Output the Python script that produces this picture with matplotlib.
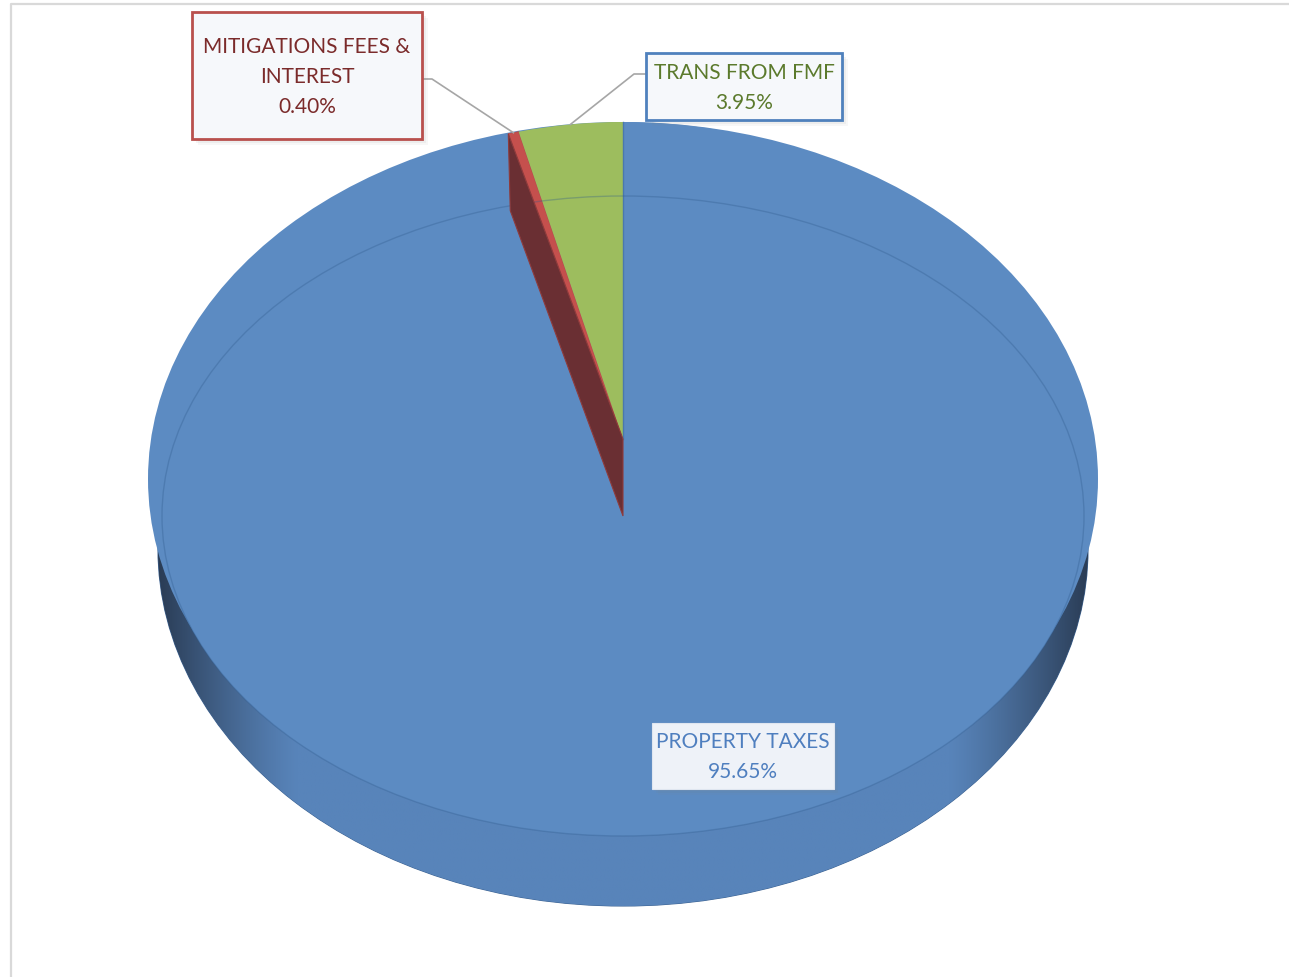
import numpy as np
import matplotlib
matplotlib.use("Agg")
import matplotlib.pyplot as plt
from matplotlib.patches import Ellipse, Polygon, Rectangle

# ---------------- data ----------------
categories = ["PROPERTY TAXES", "MITIGATIONS FEES &\nINTEREST", "TRANS FROM FMF"]
shares = [95.65, 0.40, 3.95]
pct_labels = ["95.65%", "0.40%", "3.95%"]
slice_colors = ["#5c8bc2", "#c5504d", "#9dbd5e"]
text_colors = ["#4f7fbf", "#7b2b2b", "#5b7a2c"]

plt.rcParams['font.family'] = ['Lato', 'DejaVu Sans']

W, H = 1289, 978
fig = plt.figure(figsize=(W / 100, H / 100), dpi=100)
ax = fig.add_axes([0, 0, 1, 1])

# pie-top geometry (pixels)
CX, CY = 623, 440
RX, RY = 425, 317
DEPTH = 77


def P(px, py):
    return ((px - CX) / RX, (CY - py) / RY)


def ell(cx, cy, rx, ry, **kw):
    return Ellipse(P(cx, cy), 2 * rx / RX, 2 * ry / RY, **kw)


TOP = slice_colors[0]

# ---- side wall (extrusion) ----
side = ell(623, 550, 465, 357, facecolor="#5782b8", edgecolor="#3f6594", lw=0.8, zorder=1)
ax.add_patch(side)
xs = np.linspace(158, 1088, 600)
t = np.abs(xs - 623) / 465
f = np.clip((t - 0.70) / 0.30, 0, 1) ** 1.2
mid = np.array(matplotlib.colors.to_rgb("#5884ba"))
dark = np.array(matplotlib.colors.to_rgb("#2a3c55"))
grad = mid[None, :] * (1 - f[:, None]) + dark[None, :] * f[:, None]
img = np.tile(grad[None, :, :], (10, 1, 1))
x0, y0 = P(158, 907)
x1, y1 = P(1088, 193)
im = ax.imshow(img, extent=(x0, x1, y0, y1), aspect="auto", zorder=2, interpolation="bilinear")
im.set_clip_path(side)

# ---- top face ----
ax.add_patch(ell(623, 480, 475, 357, facecolor=TOP, edgecolor="none", zorder=3))
ax.add_patch(ell(623, 517, 461, 320, facecolor=TOP, edgecolor="none", zorder=3))

# ---- pie slices on top face ----
wedges, _ = ax.pie(shares, colors=slice_colors, startangle=90, counterclock=False,
                   radius=1, center=(0, 0), frame=True,
                   wedgeprops=dict(edgecolor="none", zorder=4))
for w in wedges:
    w.set_zorder(4)
wedges[1].set_edgecolor("#b84946")
wedges[1].set_linewidth(0.6)

total = sum(shares)
cum = np.cumsum([0] + shares) / total
ang = np.deg2rad(90 - 360 * cum)

# boundary line between blue and green (start of pie)
ax.plot([0, np.cos(ang[0])], [0, np.sin(ang[0])], color="#4a78ae", lw=1.0, zorder=5)

# inner bevel line
ax.add_patch(ell(623, 517, 461, 320, facecolor="none", edgecolor="#2f5a8c",
                 alpha=0.32, lw=1.0, zorder=5))

# dark cut face of red slice
d = DEPTH / RY
rb = (np.cos(ang[1]), np.sin(ang[1]))
face = Polygon([(0, 0), rb, (rb[0] + 2 / RX, rb[1] - d), (0, -d)], closed=True,
               facecolor="#6a2f33", edgecolor="#8e3b3c", lw=0.8, zorder=6)
ax.add_patch(face)

# ---- labels ----
def box(xa, ya, xb, yb, fc, ec, lw):
    for k, a in enumerate([0.10, 0.08, 0.06]):
        o = 2 + 2 * k
        ax.add_patch(Rectangle(P(xa + o, yb + o), (xb - xa) / RX, (yb - ya) / RY,
                               facecolor="#7f7f7f", edgecolor="none", alpha=a, zorder=7))
    ax.add_patch(Rectangle(P(xa, yb), (xb - xa) / RX, (yb - ya) / RY,
                           facecolor=fc, edgecolor=ec, lw=lw, zorder=8))


def rim(frac):
    a = np.deg2rad(90 - 360 * frac)
    return np.cos(a), np.sin(a)


lead = "#a6a6a6"
LS = 1.62
# mitigation label
mx, my = rim(cum[1] + shares[1] / total / 2)
ax.plot([P(422, 80)[0], P(432, 80)[0], mx], [P(422, 80)[1], P(432, 80)[1], my],
        color=lead, lw=1.2, zorder=6.5)
box(192, 13, 422, 140, "#f6f8fb", "#b9504d", 2.0)
ax.text(*P(307, 77), f"{categories[1]}\n{pct_labels[1]}", ha="center", va="center",
        fontsize=15, color=text_colors[1], linespacing=LS, zorder=9)

# trans label
tx, ty = rim(cum[2] + shares[2] / total / 2)
ax.plot([P(646, 75)[0], P(634, 75)[0], tx], [P(646, 75)[1], P(634, 75)[1], ty],
        color=lead, lw=1.2, zorder=6.5)
box(646, 54, 842, 121, "#f6f8fb", "#4f81bd", 2.0)
ax.text(*P(744, 88), f"{categories[2]}\n{pct_labels[2]}", ha="center", va="center",
        fontsize=15, color=text_colors[2], linespacing=LS, zorder=9)

# property taxes label
box(652, 724, 834, 790, "#eef2f8", "#dfe6f0", 0.8)
ax.text(*P(743, 757), f"{categories[0]}\n{pct_labels[0]}", ha="center", va="center",
        fontsize=15, color=text_colors[0], linespacing=LS, zorder=9)

# chart-area frame
fx = [P(11, H)[0], P(11, 5)[0], P(W, 5)[0]]
fy = [P(11, H)[1], P(11, 5)[1], P(W, 5)[1]]
ax.plot(fx, fy, color="#d9d9d9", lw=1.6, zorder=0.5)

ax.set_aspect("auto")
ax.set_xlim(P(0, 0)[0], P(W, 0)[0])
ax.set_ylim(P(0, H)[1], P(0, 0)[1])
ax.axis("off")

fig.savefig("out.png", dpi=100)
